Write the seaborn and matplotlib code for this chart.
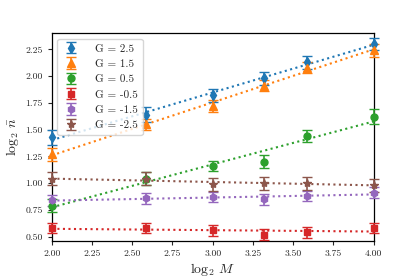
import numpy as np
import pandas as pd
import matplotlib
matplotlib.use('Agg')
import matplotlib.pyplot as plt
import seaborn as sns

# log2 M values
log2_M = [2.0, 2.585, 3.0, 3.322, 3.585, 4.0]

# log2 n-bar per G
g_labels = ['G = 2.5', 'G = 1.5', 'G = 0.5', 'G = -0.5', 'G = -1.5', 'G = -2.5']
n_g25 = [1.43, 1.64, 1.82, 1.98, 2.13, 2.30]
n_g15 = [1.27, 1.55, 1.72, 1.91, 2.08, 2.24]
n_g05 = [0.79, 1.04, 1.16, 1.20, 1.44, 1.62]
n_gm05 = [0.58, 0.58, 0.56, 0.52, 0.54, 0.58]
n_gm15 = [0.84, 0.86, 0.87, 0.85, 0.88, 0.91]
n_gm25 = [1.04, 1.04, 0.99, 1.00, 1.00, 0.98]

err_g25 = [0.07, 0.07, 0.06, 0.06, 0.06, 0.06]
err_g15 = [0.06, 0.05, 0.06, 0.05, 0.05, 0.06]
err_g05 = [0.06, 0.06, 0.05, 0.06, 0.06, 0.07]
err_gm05 = [0.05, 0.05, 0.05, 0.05, 0.05, 0.05]
err_gm15 = [0.05, 0.05, 0.05, 0.05, 0.05, 0.05]
err_gm25 = [0.06, 0.06, 0.06, 0.06, 0.06, 0.06]

series = [n_g25, n_g15, n_g05, n_gm05, n_gm15, n_gm25]
errors = [err_g25, err_g15, err_g05, err_gm05, err_gm15, err_gm25]
markers = ['d', '^', 'o', 's', 'h', '*']
sizes = [5.5, 5.5, 5, 5, 5, 6]
colors = sns.color_palette('tab10', 6)

sns.set_style('ticks')
plt.rcParams['font.family'] = 'serif'
plt.rcParams['font.serif'] = ['cmr10']
plt.rcParams['mathtext.fontset'] = 'cm'
plt.rcParams['axes.formatter.use_mathtext'] = True
plt.rcParams['axes.unicode_minus'] = False

fig, ax = plt.subplots(figsize=(4.15, 2.77), dpi=100)
fig.subplots_adjust(left=0.125, right=0.9, top=0.88, bottom=0.13)

for lab, y, e, m, ms, c in zip(g_labels, series, errors, markers, sizes, colors):
    df = pd.DataFrame({'x': log2_M, 'y': y})
    ax.errorbar(df['x'], df['y'], yerr=e, fmt=m, color=c, ms=ms,
                capsize=3.5, elinewidth=1.2, ecolor=c,
                label=lab, clip_on=False, zorder=3)
    sns.regplot(data=df, x='x', y='y', scatter=False, ci=None, color=c,
                line_kws={'ls': ':', 'lw': 1.5}, ax=ax, truncate=True)

ax.set_xlim(2.0, 4.0)
ax.set_ylim(0.46, 2.40)
ax.set_xticks([2.0, 2.25, 2.5, 2.75, 3.0, 3.25, 3.5, 3.75, 4.0])
ax.set_yticks([0.5, 0.75, 1.0, 1.25, 1.5, 1.75, 2.0, 2.25])
ax.set_xticklabels([f'{v:.2f}' for v in ax.get_xticks()], fontsize=7)
ax.set_yticklabels([f'{v:.2f}' for v in ax.get_yticks()], fontsize=7)
ax.tick_params(length=3, width=0.8)
ax.set_xlabel(r'$\log_2\, M$', fontsize=10, labelpad=2)
ax.set_ylabel(r'$\log_2\, \bar{n}$', fontsize=10, labelpad=3)
for s in ax.spines.values():
    s.set_color('black')
    s.set_linewidth(0.9)

ax.legend(loc='upper left', fontsize=8, frameon=True, handlelength=1.5,
          labelspacing=0.5, borderpad=0.45, handletextpad=1.4)

plt.savefig('out.png', dpi=100)
